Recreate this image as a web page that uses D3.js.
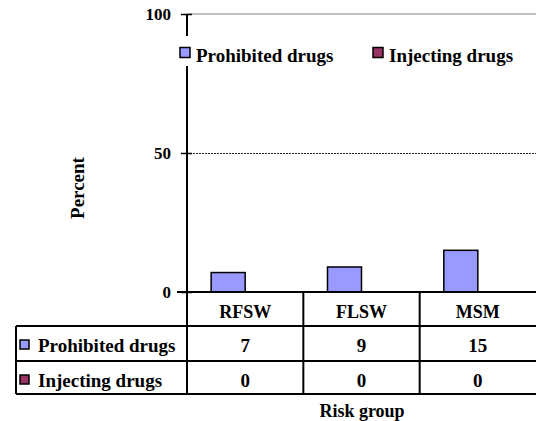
<!DOCTYPE html>
<html>
<head>
<meta charset="utf-8">
<script src="https://cdn.jsdelivr.net/npm/d3@7"></script>
</head>
<body style="margin:0; background:#fff">
<svg id="chart"></svg>
<script>
// data
const groups = ["RFSW", "FLSW", "MSM"];
const seriesNames = ["Prohibited drugs", "Injecting drugs"];
const prohibited = [7, 9, 15];
const injecting = [0, 0, 0];
const yTicks = [0, 50, 100];
const seriesColors = ["#9999ff", "#993366"];

const W = 536, H = 421;
const margin = {left: 187, right: 0, top: 14, bottom: 129};
const tableLeft = 16;
const rowH = [34, 35, 33]; // header, row1, row2
const FONT = "Liberation Serif";

let svg = d3.select("#chart").attr("width", W).attr("height", H);

// helper so every label gets the serif font
function label(sel, size) {
  return sel.attr("font-family", FONT)
    .attr("font-weight", "bold")
    .attr("font-size", size)
    .attr("fill", "#000");
}

let x = d3.scaleBand().domain(groups).range([margin.left, W]).paddingInner(0).paddingOuter(0);
let xs = d3.scaleBand().domain(seriesNames).range([0, x.bandwidth()]).paddingOuter(0.71).paddingInner(0);
let y = d3.scaleLinear().domain([0, 100]).range([H - margin.bottom, margin.top]);

let series = [prohibited, injecting];

// top border of plot area
svg.append("line")
  .attr("x1", margin.left).attr("x2", W)
  .attr("y1", y(100)).attr("y2", y(100))
  .attr("stroke", "#808080").attr("stroke-width", 1);

// gridline at 50
svg.append("line")
  .attr("x1", margin.left).attr("x2", W)
  .attr("y1", y(50) + 0.5).attr("y2", y(50) + 0.5)
  .attr("stroke", "#222").attr("stroke-width", 1)
  .attr("stroke-dasharray", "2,1");

// bars
series.forEach((vals, si) => {
  svg.append("g").selectAll("rect")
    .data(groups)
    .join("rect")
    .attr("x", (g) => x(g) + xs(seriesNames[si]))
    .attr("y", (g, i) => y(vals[i]))
    .attr("width", xs.bandwidth())
    .attr("height", (g, i) => y(0) - y(vals[i]))
    .attr("fill", seriesColors[si])
    .attr("stroke", "#000")
    .attr("stroke-width", 1.5);
});

// y axis
let yAxis = d3.axisLeft(y).tickValues(yTicks).tickSize(0).tickPadding(16);
let yG = svg.append("g").attr("transform", `translate(${margin.left},0)`).call(yAxis);
yG.select(".domain").remove();
label(yG, 17);
yG.selectAll("text").attr("fill", "#000");
yG.selectAll(".tick").append("line")
  .attr("x1", -6).attr("x2", 5)
  .attr("stroke", "#000").attr("stroke-width", 1.5);

let tableTop = y(0);
let tableBottom = tableTop + d3.sum(rowH);

// axis line through the table
svg.append("line")
  .attr("x1", margin.left).attr("x2", margin.left)
  .attr("y1", margin.top).attr("y2", tableBottom)
  .attr("stroke", "#000").attr("stroke-width", 2);

// baseline
svg.append("line")
  .attr("x1", margin.left - 10).attr("x2", W)
  .attr("y1", tableTop).attr("y2", tableTop)
  .attr("stroke", "#000").attr("stroke-width", 2);

// table horizontal lines
let rowY = [tableTop + rowH[0], tableTop + rowH[0] + rowH[1], tableBottom];
rowY.forEach((ry) => {
  svg.append("line")
    .attr("x1", tableLeft).attr("x2", W)
    .attr("y1", ry).attr("y2", ry)
    .attr("stroke", "#000").attr("stroke-width", 2);
});
svg.append("line")
  .attr("x1", tableLeft).attr("x2", tableLeft)
  .attr("y1", rowY[0]).attr("y2", tableBottom)
  .attr("stroke", "#000").attr("stroke-width", 2);

// category dividers
groups.slice(1).forEach((g) => {
  svg.append("line")
    .attr("x1", x(g)).attr("x2", x(g))
    .attr("y1", tableTop).attr("y2", tableBottom)
    .attr("stroke", "#000").attr("stroke-width", 2);
});

// category labels
label(svg.append("g"), 18).selectAll("text")
  .data(groups)
  .join("text")
  .attr("x", (g) => x(g) + x.bandwidth() / 2)
  .attr("y", tableTop + 26)
  .attr("text-anchor", "middle")
  .text((g) => g);

// table rows
series.forEach((vals, si) => {
  let top = rowY[si];
  svg.append("rect")
    .attr("x", 20).attr("y", top + 14)
    .attr("width", 9).attr("height", 9)
    .attr("fill", seriesColors[si]).attr("stroke", "#000").attr("stroke-width", 1.5);
  label(svg.append("text"), 19)
    .attr("x", 38).attr("y", top + 26)
    .text(seriesNames[si]);
  label(svg.append("g"), 19).selectAll("text")
    .data(groups)
    .join("text")
    .attr("x", (g) => x(g) + x.bandwidth() / 2)
    .attr("y", top + 26)
    .attr("text-anchor", "middle")
    .text((g, i) => vals[i]);
});

// legend
let legend = svg.append("g");
legend.append("rect")
  .attr("x", 174).attr("y", 36).attr("width", 348).attr("height", 30)
  .attr("fill", "#fff");
let legX = [179, 372];
seriesNames.forEach((name, si) => {
  legend.append("rect")
    .attr("x", legX[si] + 1).attr("y", 47.5)
    .attr("width", 10).attr("height", 10)
    .attr("fill", seriesColors[si]).attr("stroke", "#000").attr("stroke-width", 1.5);
  label(legend.append("text"), 19)
    .attr("x", legX[si] + 17).attr("y", 62)
    .text(name);
});

// axis titles
label(svg.append("text"), 19)
  .attr("transform", `translate(84,188) rotate(-90)`)
  .attr("text-anchor", "middle")
  .text("Percent");

label(svg.append("text"), 18)
  .attr("x", 362).attr("y", 417)
  .attr("text-anchor", "middle")
  .text("Risk group");
</script>
</body>
</html>
